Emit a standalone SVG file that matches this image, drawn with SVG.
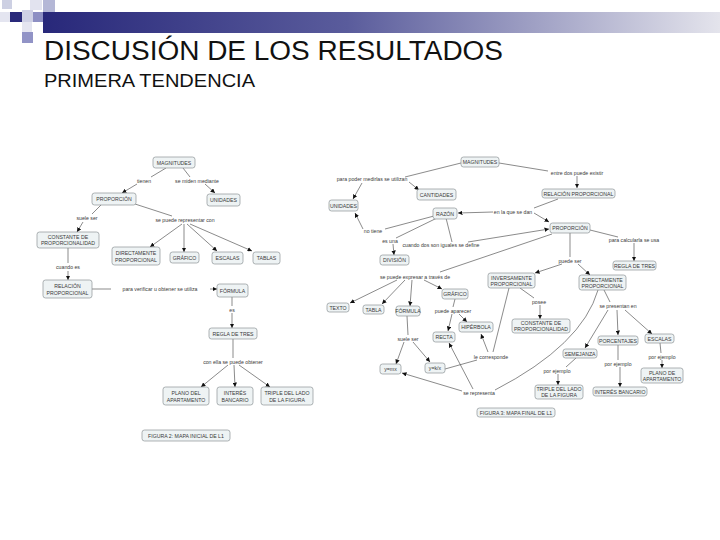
<svg xmlns="http://www.w3.org/2000/svg" width="720" height="540" viewBox="0 0 720 540">
<defs>
<linearGradient id="bar" x1="0" y1="0" x2="1" y2="0">
<stop offset="0" stop-color="#28287a"/>
<stop offset="0.45" stop-color="#5a5c9c"/>
<stop offset="1" stop-color="#e4e4ec"/>
</linearGradient>
<marker id="ar" viewBox="0 0 6 6" refX="6" refY="3" markerWidth="4.5" markerHeight="4.5" orient="auto" markerUnits="userSpaceOnUse">
<path d="M0,0 L6,3 L0,6 z" fill="#111"/>
</marker>
<style>
.n rect{fill:#eef3f4;stroke:#8c9396;stroke-width:0.7}
.n text{font-family:"Liberation Sans",Arial,sans-serif;font-size:5.2px;fill:#3a3a3a;text-anchor:middle}
.lb{font-family:"Liberation Sans",Arial,sans-serif;font-size:5.2px;fill:#3a3a3a;text-anchor:middle}
.e line,.e path{stroke:#3c3c3c;stroke-width:0.6;fill:none}
.e .a{marker-end:url(#ar)}
.t{font-family:"Liberation Sans",Arial,sans-serif;fill:#111}
</style>
</defs>
<rect width="720" height="540" fill="#fff"/>
<g id="header">
<rect x="43" y="12" width="677" height="21" fill="url(#bar)"/>
<rect x="2" y="0" width="10" height="9" fill="#cdd0e3"/>
<rect x="43" y="0" width="12" height="12" fill="#b4b7d6"/>
<rect x="30" y="0" width="12" height="10" fill="#e2e3ef"/>
<rect x="0" y="12" width="10" height="10" fill="#e4e5f0"/>
<rect x="10" y="12" width="12" height="10" fill="#29297a"/>
<rect x="22" y="10" width="11" height="12" fill="#cfd1e5"/>
<rect x="33" y="12" width="10" height="10" fill="#8d8fc3"/>
<rect x="22" y="22" width="10" height="10" fill="#e4e5f0"/>
<rect x="22" y="32" width="11" height="11" fill="#9193c6"/>
</g>
<text class="t" x="44" y="60" font-size="27" textLength="459" lengthAdjust="spacingAndGlyphs">DISCUSIÓN DE LOS RESULTADOS</text>
<text class="t" x="44" y="87" font-size="18" textLength="211" lengthAdjust="spacingAndGlyphs">PRIMERA TENDENCIA</text>

<g id="connectors" class="e">
<!-- left map -->
<line x1="166" y1="168" x2="151" y2="177"/>
<line class="a" x1="137" y1="184" x2="122" y2="193"/>
<line x1="183" y1="168" x2="190" y2="177"/>
<line class="a" x1="205" y1="184" x2="215" y2="193"/>
<line x1="101" y1="205" x2="92" y2="214"/>
<line class="a" x1="83" y1="222" x2="77" y2="232"/>
<line x1="135" y1="204" x2="172" y2="216"/>
<line class="a" x1="182" y1="224" x2="150" y2="247"/>
<line class="a" x1="184" y1="224" x2="184" y2="252"/>
<line class="a" x1="187" y1="224" x2="217" y2="251"/>
<line class="a" x1="190" y1="224" x2="252" y2="251"/>
<line x1="68" y1="248" x2="68" y2="263"/>
<line class="a" x1="68" y1="271" x2="68" y2="280"/>
<line x1="92" y1="289" x2="111" y2="289"/>
<line class="a" x1="210" y1="289" x2="217" y2="289"/>
<line x1="232" y1="297" x2="232" y2="306"/>
<line class="a" x1="232" y1="313" x2="232" y2="328"/>
<line x1="233" y1="339" x2="233" y2="358"/>
<line class="a" x1="228" y1="365" x2="201" y2="387"/>
<line class="a" x1="234" y1="365" x2="235" y2="387"/>
<line class="a" x1="239" y1="365" x2="270" y2="387"/>
<!-- right map -->
<line x1="461" y1="163" x2="405" y2="177"/>
<line class="a" x1="362" y1="183" x2="353" y2="199"/>
<line class="a" x1="409" y1="182" x2="419" y2="190"/>
<line x1="499" y1="163" x2="548" y2="171"/>
<line class="a" x1="577" y1="176" x2="577" y2="188"/>
<line x1="558" y1="199" x2="534" y2="208"/>
<line class="a" x1="493" y1="212" x2="458" y2="213"/>
<line class="a" x1="534" y1="213" x2="549" y2="222"/>
<line x1="434" y1="216" x2="385" y2="229"/>
<line class="a" x1="363" y1="229" x2="355" y2="213"/>
<line x1="437" y1="218" x2="396" y2="238"/>
<line class="a" x1="393" y1="244" x2="394" y2="255"/>
<line x1="446" y1="218" x2="452" y2="242"/>
<line class="a" x1="468" y1="242" x2="549" y2="229"/>
<line x1="552" y1="234" x2="440" y2="272"/>
<line class="a" x1="397" y1="280" x2="350" y2="303"/>
<line class="a" x1="405" y1="280" x2="382" y2="304"/>
<line class="a" x1="412" y1="280" x2="410" y2="306"/>
<line class="a" x1="424" y1="280" x2="442" y2="289"/>
<line x1="455" y1="299" x2="453" y2="307"/>
<line class="a" x1="452" y1="314" x2="448" y2="331"/>
<line class="a" x1="459" y1="314" x2="467" y2="322"/>
<line x1="407" y1="316" x2="408" y2="335"/>
<line class="a" x1="404" y1="342" x2="396" y2="364"/>
<line class="a" x1="413" y1="342" x2="430" y2="362"/>
<line x1="509" y1="288" x2="493" y2="352"/>
<line class="a" x1="488" y1="352" x2="481" y2="334"/>
<line x1="477" y1="360" x2="445" y2="369"/>
<line class="a" x1="473" y1="389" x2="449" y2="343"/>
<line class="a" x1="462" y1="391" x2="402" y2="373"/>
<path d="M495 390 Q582 345 598 290"/>
<line x1="570" y1="233" x2="570" y2="257"/>
<line class="a" x1="562" y1="264" x2="535" y2="273"/>
<line class="a" x1="578" y1="264" x2="590" y2="275"/>
<line x1="590" y1="230" x2="618" y2="237"/>
<line class="a" x1="634" y1="243" x2="634" y2="261"/>
<line x1="520" y1="288" x2="534" y2="298"/>
<line class="a" x1="540" y1="305" x2="540" y2="319"/>
<line x1="604" y1="290" x2="610" y2="302"/>
<line class="a" x1="608" y1="310" x2="585" y2="348"/>
<line class="a" x1="617" y1="310" x2="618" y2="335"/>
<line class="a" x1="625" y1="310" x2="652" y2="334"/>
<line x1="576" y1="358" x2="566" y2="367"/>
<line class="a" x1="558" y1="374" x2="558" y2="385"/>
<line x1="618" y1="345" x2="618" y2="360"/>
<line class="a" x1="620" y1="367" x2="620" y2="387"/>
<line x1="660" y1="343" x2="661" y2="353"/>
<line class="a" x1="662" y1="360" x2="662" y2="368"/>
</g>

<g id="labels">
<text class="lb" x="144" y="183">tienen</text>
<text class="lb" x="197" y="183">se miden mediante</text>
<text class="lb" x="87" y="220">suele ser</text>
<text class="lb" x="185" y="222">se puede representar con</text>
<text class="lb" x="68" y="269">cuando es</text>
<text class="lb" x="160" y="291">para verificar u obtener se utiliza</text>
<text class="lb" x="232" y="312">es</text>
<text class="lb" x="233" y="364">con ella se puede obtener</text>
<text class="lb" x="372" y="181">para poder medirlas se utilizan</text>
<text class="lb" x="577" y="175">entre dos puede existir</text>
<text class="lb" x="513" y="214">en la que se dan</text>
<text class="lb" x="373" y="233">no tiene</text>
<text class="lb" x="390" y="243">es una</text>
<text class="lb" x="441" y="247">cuando dos son iguales se define</text>
<text class="lb" x="415" y="279">se puede expresar a través de</text>
<text class="lb" x="570" y="263">puede ser</text>
<text class="lb" x="634" y="242">para calcularla se usa</text>
<text class="lb" x="539" y="304">posee</text>
<text class="lb" x="618" y="308">se presentan en</text>
<text class="lb" x="453" y="313">puede aparecer</text>
<text class="lb" x="408" y="341">suele ser</text>
<text class="lb" x="491" y="359">le corresponde</text>
<text class="lb" x="479" y="395">se representa</text>
<text class="lb" x="557" y="373">por ejemplo</text>
<text class="lb" x="618" y="366">por ejemplo</text>
<text class="lb" x="662" y="359">por ejemplo</text>
</g>

<!-- left map nodes -->
<g id="L_magnitudes" class="n"><rect x="153" y="157" width="42" height="11" rx="2.5"/><text x="174" y="164.5">MAGNITUDES</text></g>
<g id="L_proporcion" class="n"><rect x="92" y="193" width="44" height="12" rx="2.5"/><text x="114" y="201">PROPORCIÓN</text></g>
<g id="L_unidades" class="n"><rect x="207" y="194" width="33" height="12" rx="2.5"/><text x="223.5" y="202">UNIDADES</text></g>
<g id="L_constante" class="n"><rect x="37" y="232" width="62" height="16" rx="2.5"/><text x="68" y="239">CONSTANTE DE</text><text x="68" y="245">PROPORCIONALIDAD</text></g>
<g id="L_directamente" class="n"><rect x="112" y="247" width="48" height="18" rx="2.5"/><text x="136" y="255">DIRECTAMENTE</text><text x="136" y="261.5">PROPORCIONAL</text></g>
<g id="L_grafico" class="n"><rect x="170" y="252" width="29" height="11" rx="2.5"/><text x="184.5" y="259.5">GRÁFICO</text></g>
<g id="L_escalas" class="n"><rect x="212" y="252" width="31" height="12" rx="2.5"/><text x="227.5" y="260">ESCALAS</text></g>
<g id="L_tablas" class="n"><rect x="253" y="252" width="27" height="12" rx="2.5"/><text x="266.5" y="260">TABLAS</text></g>
<g id="L_relacion" class="n"><rect x="43" y="280" width="49" height="18" rx="2.5"/><text x="67.5" y="288">RELACIÓN</text><text x="67.5" y="294.5">PROPORCIONAL</text></g>
<g id="L_formula" class="n"><rect x="217" y="284" width="31" height="13" rx="2.5"/><text x="232.5" y="292.5">FÓRMULA</text></g>
<g id="L_regla" class="n"><rect x="209" y="328" width="48" height="11" rx="2.5"/><text x="233" y="335.5">REGLA DE TRES</text></g>
<g id="L_plano" class="n"><rect x="163" y="387" width="46" height="18" rx="2.5"/><text x="186" y="395">PLANO DEL</text><text x="186" y="401.5">APARTAMENTO</text></g>
<g id="L_interes" class="n"><rect x="217" y="387" width="36" height="18" rx="2.5"/><text x="235" y="395">INTERÉS</text><text x="235" y="401.5">BANCARIO</text></g>
<g id="L_triple" class="n"><rect x="261" y="387" width="52" height="18" rx="2.5"/><text x="287" y="395">TRIPLE DEL LADO</text><text x="287" y="401.5">DE LA FIGURA</text></g>
<g id="L_figura" class="n"><rect x="142" y="430" width="88" height="11" rx="2.5"/><text x="186" y="437.5">FIGURA 2: MAPA INICIAL DE L1</text></g>

<!-- right map nodes -->
<g id="R_magnitudes" class="n"><rect x="461" y="157" width="38" height="10" rx="2.5"/><text x="480" y="164">MAGNITUDES</text></g>
<g id="R_unidades" class="n"><rect x="329" y="200" width="29" height="11" rx="2.5"/><text x="343.5" y="207.5">UNIDADES</text></g>
<g id="R_cantidades" class="n"><rect x="417" y="189" width="39" height="11" rx="2.5"/><text x="436.5" y="196.5">CANTIDADES</text></g>
<g id="R_razon" class="n"><rect x="433" y="208" width="24" height="11" rx="2.5"/><text x="445" y="215.5">RAZÓN</text></g>
<g id="R_division" class="n"><rect x="380" y="255" width="29" height="10" rx="2.5"/><text x="394.5" y="262">DIVISIÓN</text></g>
<g id="R_relacion" class="n"><rect x="542" y="189" width="73" height="9" rx="2.5"/><text x="578.5" y="195.5">RELACIÓN PROPORCIONAL</text></g>
<g id="R_proporcion" class="n"><rect x="550" y="223" width="40" height="10" rx="2.5"/><text x="570" y="230">PROPORCIÓN</text></g>
<g id="R_regla" class="n"><rect x="613" y="261" width="43" height="9" rx="2.5"/><text x="634.5" y="267.5">REGLA DE TRES</text></g>
<g id="R_inversa" class="n"><rect x="488" y="273" width="47" height="15" rx="2.5"/><text x="511.5" y="279.5">INVERSAMENTE</text><text x="511.5" y="285.5">PROPORCIONAL</text></g>
<g id="R_directa" class="n"><rect x="579" y="275" width="47" height="15" rx="2.5"/><text x="602.5" y="281.5">DIRECTAMENTE</text><text x="602.5" y="287.5">PROPORCIONAL</text></g>
<g id="R_constante" class="n"><rect x="512" y="319" width="58" height="14" rx="2.5"/><text x="541" y="325">CONSTANTE DE</text><text x="541" y="331">PROPORCIONALIDAD</text></g>
<g id="R_porcentajes" class="n"><rect x="598" y="336" width="40" height="9" rx="2.5"/><text x="618" y="342.5">PORCENTAJES</text></g>
<g id="R_escalas" class="n"><rect x="645" y="334" width="29" height="9" rx="2.5"/><text x="659.5" y="340.5">ESCALAS</text></g>
<g id="R_semejanza" class="n"><rect x="563" y="349" width="34" height="9" rx="2.5"/><text x="580" y="355.5">SEMEJANZA</text></g>
<g id="R_plano" class="n"><rect x="641" y="368" width="42" height="15" rx="2.5"/><text x="662" y="374.5">PLANO DE</text><text x="662" y="380.5">APARTAMENTO</text></g>
<g id="R_triple" class="n"><rect x="535" y="385" width="48" height="14" rx="2.5"/><text x="559" y="391">TRIPLE DEL LADO</text><text x="559" y="397">DE LA FIGURA</text></g>
<g id="R_interes" class="n"><rect x="593" y="387" width="54" height="9" rx="2.5"/><text x="620" y="393.5">INTERÉS BANCARIO</text></g>
<g id="R_figura" class="n"><rect x="477" y="408" width="78" height="9" rx="2.5"/><text x="516" y="414.5">FIGURA 3: MAPA FINAL DE L1</text></g>
<g id="R_texto" class="n"><rect x="327" y="303" width="22" height="9" rx="2.5"/><text x="338" y="309.5">TEXTO</text></g>
<g id="R_tabla" class="n"><rect x="363" y="305" width="21" height="9" rx="2.5"/><text x="373.5" y="311.5">TABLA</text></g>
<g id="R_formula" class="n"><rect x="396" y="306" width="24" height="10" rx="2.5"/><text x="408" y="313">FÓRMULA</text></g>
<g id="R_grafico" class="n"><rect x="442" y="289" width="26" height="10" rx="2.5"/><text x="455" y="296">GRÁFICO</text></g>
<g id="R_hiperbola" class="n"><rect x="459" y="322" width="34" height="10" rx="2.5"/><text x="476" y="329">HIPÉRBOLA</text></g>
<g id="R_recta" class="n"><rect x="433" y="332" width="22" height="10" rx="2.5"/><text x="444" y="339">RECTA</text></g>
<g id="R_ymx" class="n"><rect x="380" y="364" width="21" height="10" rx="2.5"/><text x="390.5" y="371">y=mx</text></g>
<g id="R_ykx" class="n"><rect x="425" y="363" width="20" height="10" rx="2.5"/><text x="435" y="370">y=k/x</text></g>
</svg>
